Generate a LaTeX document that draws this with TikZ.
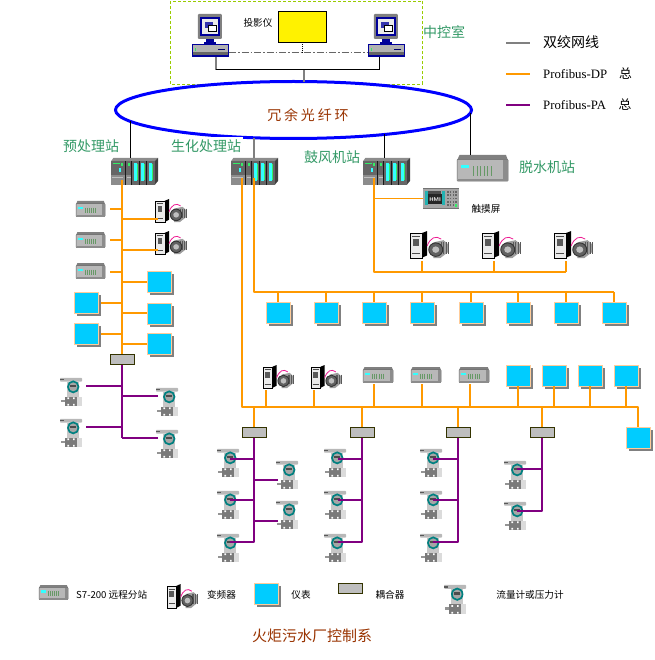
\documentclass[tikz,border=0pt]{standalone}
\usepackage{fontspec}
\setmainfont{Liberation Serif}
\newfontfamily\cjk{Noto Sans CJK SC}
\newfontfamily\cjkwide[LetterSpace=20]{Noto Sans CJK SC}
\usetikzlibrary{shapes.geometric}
\definecolor{dpor}{HTML}{FF9900}
\definecolor{papu}{HTML}{800080}
\definecolor{twis}{HTML}{808080}
\definecolor{ringb}{HTML}{0000FF}
\definecolor{grn}{HTML}{339966}
\definecolor{brn}{HTML}{993300}
\definecolor{cya}{HTML}{00CCFF}
\definecolor{peach}{HTML}{FFCC99}
\definecolor{olv}{HTML}{333300}
\definecolor{cpl}{HTML}{BEBEBE}
\definecolor{nav}{HTML}{000099}
\definecolor{tea}{HTML}{008080}
\definecolor{mint}{HTML}{33FFFF}
\definecolor{lime}{HTML}{33EE66}
\definecolor{tick}{HTML}{669966}
\definecolor{frame}{HTML}{99CC00}
\tikzset{
  dpbus/.style={draw=dpor,line width=1.7pt,line join=round},
  pabus/.style={draw=papu,line width=1.8pt,line join=round},
  tpline/.style={draw=twis,line width=1.5pt},
  blkline/.style={draw=black,line width=1pt},
  box/.style={inner sep=0pt,outer sep=0pt},
  greenlbl/.style={text=grn,font=\cjk\fontsize{14}{14}\selectfont,inner sep=0pt},
  smalllbl/.style={text=black,font=\cjk\fontsize{9.6}{10}\selectfont,inner sep=0pt},
  brownlbl/.style={text=brn,inner sep=0pt},
  leglbl/.style={text=black,inner sep=0pt,anchor=west},
}
% icons: name, left, top, width, height
\newcommand\remoteicon[5]{%
  \node[box,minimum width=#4pt,minimum height=#5pt] (#1) at ({#2+#4/2},{#3+#5/2}) {};
  \begin{scope}[shift={(#2,#3)},x=#4pt,y=-#5pt]
    \fill[black!50] (.05,0) -- (.96,0) -- (1,.2) -- (0,.2) -- cycle;
    \draw[black!60,fill=black!28,rounded corners=.8pt,line width=.5pt] (0,.16) rectangle (1,.97);
    \fill[black!45] (.91,.18) rectangle (1,.95);
    \fill[black!45] (.02,.88) rectangle (.98,.97);
    \fill[mint] (.08,.36) rectangle (.24,.5);
    \foreach \t in {.32,.39,.46,.53,.6,.67}
      \draw[tick,line width=.7pt] (\t,.42) -- (\t,.76);
  \end{scope}}
\newcommand\plcicon[5]{%
  \node[box,minimum width=#4pt,minimum height=#5pt] (#1) at ({#2+#4/2},{#3+#5/2}) {};
  \begin{scope}[shift={(#2,#3)},x=#4pt,y=-#5pt]
    \fill[black!45] (0,.12) -- (.05,0) -- (1,0) -- (.93,.12) -- cycle;
    \fill[black!75] (.93,.12) -- (1,0) -- (1,.85) -- (.93,1) -- cycle;
    \fill[black!60] (0,.12) rectangle (.93,1);
    \fill[black!45] (0,.62) rectangle (.3,1);
    \fill[black!45] (.3,.62) rectangle (.44,1);
    \fill[lime] (.04,.17) rectangle (.2,.24);
    \fill[lime] (.22,.2) rectangle (.26,.3);
    \fill[lime] (.36,.2) rectangle (.4,.3);
    \fill[mint] (.16,.38) rectangle (.22,.52);
    \draw[black!25,line width=.4pt] (.03,.72) -- (.25,.72) (.33,.72) -- (.42,.72);
    \foreach \m in {.3,.44,.6,.76} \draw[black!90,line width=.5pt] (\m,.12) -- (\m,1);
    \foreach \m in {.48,.64,.8}{
      \fill[mint] (\m,.2) rectangle (\m+.07,.84);
      \fill[lime] (\m+.07,.24) rectangle (\m+.09,.8);
    }
  \end{scope}}
\newcommand\pcicon[5]{%
  \node[box,minimum width=#4pt,minimum height=#5pt] (#1) at ({#2+#4/2},{#3+#5/2}) {};
  \begin{scope}[shift={(#2,#3)},x=#4pt,y=-#5pt]
    \fill[twis,rounded corners=1pt] (.16,0) rectangle (.81,.58);
    \fill[nav] (.22,.06) rectangle (.76,.52);
    \fill[black!8] (.28,.12) rectangle (.7,.46);
    \fill[nav!80] (.34,.18) rectangle (.58,.32);
    \draw[black,fill=white,line width=.5pt] (.44,.26) rectangle (.65,.41);
    \fill[nav] (.38,.58) rectangle (.6,.64);
    \fill[nav] (.32,.64) rectangle (.66,.69);
    \fill[nav] (0,.7) rectangle (1,1);
    \fill[black!30] (.03,.73) rectangle (.97,.95);
    \fill[black!60] (.03,.88) rectangle (.97,.95);
    \fill[nav!70!black] (.7,.81) rectangle (.88,.84);
    \fill[lime] (.08,.8) rectangle (.12,.85);
  \end{scope}}
\newcommand\vfdicon[5]{%
  \node[box,minimum width=#4pt,minimum height=#5pt] (#1) at ({#2+#4/2},{#3+#5/2}) {};
  \begin{scope}[shift={(#2,#3)},x=#4pt,y=-#5pt]
    \fill[black] (.3,.08) -- (.44,0) -- (.44,.9) -- (.3,1) -- cycle;
    \draw[black,fill=black!8,line width=.5pt] (0,.08) rectangle (.31,1);
    \fill[black!65] (.08,.3) rectangle (.23,.55);
    \draw[black!70,line width=.5pt] (.05,.2) -- (.26,.2) (.05,.82) -- (.26,.82);
    \fill[black!38] (.6,.42) -- (.86,.34) -- (1,.52) -- (.98,.78) -- (.78,1) -- (.6,1) -- cycle;
    \foreach \t in {.8,.86,.92,.97} \draw[black!65,line width=.4pt] (\t,.42) -- (\t,.84);
    \draw[black!80,fill=black!62,line width=.9pt] (.66,.69) circle [x radius=.18,y radius=.25];
    \fill[black!25] (.66,.69) circle [x radius=.09,y radius=.12];
    \draw[magenta!85!pink,line width=.8pt] (.44,.55) .. controls (.52,.25) and (.66,.15) .. (.8,.3);
  \end{scope}}
\newcommand\metericon[5]{%
  \node[box,minimum width=#4pt,minimum height=#5pt] (#1) at ({#2+#4/2},{#3+#5/2}) {};
  \begin{scope}[shift={(#2,#3)},x=#4pt,y=-#5pt]
    \fill[black!28,rounded corners=.8pt] (0,.03) rectangle (1,.16);
    \fill[black!65] (.02,.06) rectangle (.17,.12);
    \fill[black!22] (.3,.16) rectangle (.85,.7);
    \draw[tea,line width=1.7pt,fill=black!35] (.6,.34) circle [x radius=.24,y radius=.19];
    \fill[black!70] (.47,.28) rectangle (.72,.35);
    \fill[black!52] (.22,.68) rectangle (.78,1);
    \fill[black!14] (.78,.68) rectangle (1,1);
    \fill[black!42] (.04,.78) rectangle (.22,.86);
    \fill[white] (.34,.7) rectangle (.41,.76) (.6,.7) rectangle (.67,.76)
                 (.34,.93) rectangle (.41,.99) (.6,.93) rectangle (.67,.99);
  \end{scope}}
\newcommand\hmiicon[5]{%
  \node[box,minimum width=#4pt,minimum height=#5pt] (#1) at ({#2+#4/2},{#3+#5/2}) {};
  \begin{scope}[shift={(#2,#3)},x=#4pt,y=-#5pt]
    \fill[black!35] (0,0) rectangle (1,1);
    \fill[black!55] (0,0) rectangle (1,.06);
    \fill[black!55] (0,.94) rectangle (1,1);
    \fill[mint!70!black] (.05,.12) rectangle (.13,.8);
    \fill[mint!70!black] (.52,.12) rectangle (.6,.8);
    \fill[black!70] (.14,.12) rectangle (.5,.28);
    \fill[black!85] (.15,.3) rectangle (.52,.76);
    \node[box,text=white,font=\sffamily\bfseries\fontsize{5.5}{6}\selectfont] (#1txt) at (.335,.53) {HMI};
    \foreach \a in {.66,.74,.82,.9}
      \foreach \b in {.14,.3,.46,.62,.78}
        \fill[black!60] (\a,\b) rectangle (\a+.05,\b+.08);
    \fill[lime] (.88,.78) rectangle (.94,.92);
  \end{scope}}
\newcommand\insticon[4]{% name, left, top, height
  \fill[twis] ({#2+2.5},{#3+2.5}) rectangle ({#2+27},{#3+#4+2.5});
  \node[box,draw=peach,fill=cya,line width=.8pt,minimum width=24.5pt,minimum height=#4pt] (#1) at ({#2+12.25},{#3+#4/2}) {};}
\newcommand\cplicon[3]{% name, centre x, top
  \node[box,draw=olv,fill=cpl,line width=.8pt,minimum width=24pt,minimum height=10.5pt] (#1) at (#2,{#3+5.25}) {};}
% stubs: style, name of free end, x, y, node on the bus
\newcommand\hstub[5]{\coordinate (#2) at (#3,#4); \draw[#1] (#2) -- (#2 -| #5);}
\newcommand\vstub[5]{\coordinate (#2) at (#3,#4); \draw[#1] (#2) -- (#2 |- #5);}
\begin{document}
\begin{tikzpicture}[x=1pt,y=-1pt]
\useasboundingbox[fill=white] (0,0) rectangle (654,660);

% control room frame
\draw[draw=frame,line width=.8pt,dash pattern=on 3pt off 2pt] (170,1) rectangle (422.5,84);
\node[greenlbl] (lbzk) at (444,32) {中控室};
\node[box,draw=black,fill=yellow,line width=.8pt,minimum width=48pt,minimum height=31pt] (proj) at (302.5,27) {};
\node[smalllbl] (lbpr) at (258,23) {投影仪};
\pcicon{pcl}{192}{14}{37}{43}
\pcicon{pcr}{368}{14}{37}{43}

% ring
\node[ellipse,box,draw=ringb,fill=white,line width=3pt,minimum width=356pt,minimum height=57pt] (ring) at (293.5,110) {};
\node[brownlbl,font=\cjkwide\fontsize{14}{14}\selectfont] (lbring) at (308,115) {冗余光纤环};

% control room wiring
\coordinate (lanL) at (216,70);
\coordinate (lanR) at (379,70);
\coordinate (dashL) at (229,53);
\coordinate (dashR) at (368,53);
\draw[draw=twis!80!black,line width=1pt,dash pattern=on 7pt off 2pt on 1.5pt off 2pt] (dashL) -- (dashR);
\draw[black,line width=.8pt,densely dotted,shorten <=2pt] (proj.south) -- (proj.south |- dashL);
\draw[tpline] (pcl.south -| lanL) -- (lanL);
\draw[blkline] (pcr.south -| lanR) -- (lanR);
\draw[blkline] (lanL) -- (lanR);
\draw[tpline] (ring.70) -- (ring.70 |- lanL);

% stations
\plcicon{pre}{111}{158}{47}{27}
\plcicon{bio}{231}{158}{47}{27}
\plcicon{blo}{363}{158}{47}{27}
\remoteicon{dew}{457}{155}{51}{27}
\draw[blkline] (ring.184.6) -- (ring.184.6 |- pre.north);
\draw[tpline] (ring.215.6) -- (ring.215.6 |- bio.north);
\draw[blkline] (ring.345) -- (ring.345 |- blo.north);
\draw[blkline] (ring.-1.2) -- (ring.-1.2 |- dew.north);
\node[greenlbl] (lbpre) at (91,146) {预处理站};
\node[greenlbl,fill=white,inner xsep=1.5pt,inner ysep=3pt] (lbbio) at (206,146) {生化处理站};
\node[greenlbl] (lbblo) at (332,157) {鼓风机站};
\node[greenlbl] (lbdew) at (547,167) {脱水机站};

% pre-treatment branch
\remoteicon{ra}{76}{201}{29}{16}
\remoteicon{rb}{76}{232}{29}{16}
\remoteicon{rc}{76}{263}{29}{16}
\vfdicon{va}{155}{199}{32}{23}
\vfdicon{vb}{155}{231}{32}{23}
\insticon{ia}{147}{271}{21}
\insticon{ib}{147}{303}{21}
\insticon{ic}{147}{333}{21}
\insticon{id}{74}{292}{21}
\insticon{ie}{74}{323}{21}
\cplicon{ca}{122}{354}
\coordinate (aTop) at (122,180);
\coordinate (aEnd) at (122,438);
\draw[dpbus] (aTop) -- (ca.north);
\draw[pabus] (ca.south) -- (aEnd);
\hstub{dpbus}{s1}{110}{209}{ca}
\hstub{dpbus}{s2}{110}{240}{ca}
\hstub{dpbus}{s3}{110}{272}{ca}
\hstub{dpbus}{s4}{101}{303}{ca}
\hstub{dpbus}{s5}{101}{334}{ca}
\hstub{dpbus}{s6}{158}{219}{ca}
\hstub{dpbus}{s7}{158}{250}{ca}
\hstub{dpbus}{s8}{147}{282}{ca}
\hstub{dpbus}{s9}{147}{313}{ca}
\hstub{dpbus}{s10}{147}{344}{ca}
\metericon{ma}{60}{377}{22}{29}
\metericon{mb}{60}{418}{22}{29}
\metericon{mc}{156}{387}{22}{29}
\metericon{md}{156}{429}{22}{29}
\hstub{pabus}{t1}{86}{386}{ca}
\hstub{pabus}{t2}{86}{427}{ca}
\hstub{pabus}{t3}{158}{396}{ca}
\hstub{pabus}{t4}{158}{438}{ca}

% biochemical: upper instrument row
\coordinate (cTop) at (254,178);
\coordinate (cBus) at (254,292);
\coordinate (cEnd) at (614,292);
\draw[dpbus] (cTop) -- (cBus) -- (cEnd);
\foreach \n/\x in {ua/266,ub/314,uc/362,ud/410,ue/459,uf/506,ug/554,uh/602}{
  \insticon{\n}{\x}{302}{21}
  \draw[dpbus] (\n.north) -- (\n.north |- cBus);
}

% biochemical: lower bus
\vfdicon{vc}{263}{365}{31}{23}
\vfdicon{vd}{311}{365}{31}{23}
\remoteicon{rd}{363}{367}{30}{16}
\remoteicon{re}{411}{367}{30}{16}
\remoteicon{rf}{459}{367}{30}{16}
\insticon{ja}{506}{365}{21}
\insticon{jb}{542}{365}{21}
\insticon{jc}{578}{365}{21}
\insticon{jd}{614}{365}{21}
\insticon{je}{626}{427}{21}
\coordinate (bTop) at (242,178);
\coordinate (bBus) at (242,407);
\draw[dpbus] (bTop) -- (bBus) -| (je.north);
\vstub{dpbus}{v1}{266}{390}{bBus}
\vstub{dpbus}{v2}{314}{390}{bBus}
\vstub{dpbus}{v3}{374}{384}{bBus}
\vstub{dpbus}{v4}{422}{384}{bBus}
\vstub{dpbus}{v5}{470}{384}{bBus}
\foreach \n in {ja,jb,jc,jd} \draw[dpbus] (\n.south) -- (\n.south |- bBus);

% couplers and meters of the lower bus
\cplicon{cb}{254}{427}
\cplicon{cc}{362}{427}
\cplicon{cd}{458}{427}
\cplicon{ce}{542}{427}
\foreach \n in {cb,cc,cd,ce} \draw[dpbus] (\n.north) -- (\n.north |- bBus);
\metericon{me}{217}{448}{22}{29}
\metericon{mf}{217}{490}{22}{29}
\metericon{mg}{217}{533}{22}{29}
\metericon{mh}{276}{460}{22}{29}
\metericon{mi}{276}{500}{22}{29}
\metericon{mj}{324}{448}{22}{29}
\metericon{mk}{324}{490}{22}{29}
\metericon{ml}{324}{533}{22}{29}
\metericon{mm}{420}{448}{22}{29}
\metericon{mn}{420}{490}{22}{29}
\metericon{mo}{420}{533}{22}{29}
\metericon{mp}{504}{460}{22}{29}
\metericon{mq}{504}{501}{22}{29}
\coordinate (w3) at (230,542);
\coordinate (w8) at (338,542);
\coordinate (w11) at (433,542);
\coordinate (w13) at (517,511);
\draw[pabus] (cb.south) |- (w3);
\draw[pabus] (cc.south) |- (w8);
\draw[pabus] (cd.south) |- (w11);
\draw[pabus] (ce.south) |- (w13);
\hstub{pabus}{w1}{230}{459}{cb}
\hstub{pabus}{w2}{230}{500}{cb}
\hstub{pabus}{w4}{278}{480}{cb}
\hstub{pabus}{w5}{278}{521}{cb}
\hstub{pabus}{w6}{338}{459}{cc}
\hstub{pabus}{w7}{338}{500}{cc}
\hstub{pabus}{w9}{433}{459}{cd}
\hstub{pabus}{w10}{433}{500}{cd}
\hstub{pabus}{w12}{517}{469}{ce}

% blower branch
\hmiicon{hmi}{423}{188}{36}{21}
\node[smalllbl] (lbhmi) at (486,209) {触摸屏};
\vfdicon{vf}{410}{231}{39}{27}
\vfdicon{vg}{482}{231}{39}{27}
\vfdicon{vh}{554}{231}{39}{27}
\coordinate (dTop) at (374,178);
\coordinate (dBus) at (374,272);
\coordinate (dEnd) at (566,272);
\draw[dpbus] (dTop) -- (dBus) -- (dEnd);
\draw[dpbus] (hmi.west) -- (hmi.west -| dBus);
\vstub{dpbus}{x1}{422}{261}{dBus}
\vstub{dpbus}{x2}{494}{261}{dBus}
\vstub{dpbus}{x3}{566}{261}{dBus}

% line legend
\coordinate (la1) at (506,43); \coordinate (la2) at (530,43);
\coordinate (lb1) at (506,74); \coordinate (lb2) at (530,74);
\coordinate (lc1) at (506,105); \coordinate (lc2) at (530,105);
\draw[tpline] (la1) -- (la2);
\draw[dpbus] (lb1) -- (lb2);
\draw[pabus] (lc1) -- (lc2);
\node[leglbl,font=\cjk\fontsize{14}{14}\selectfont] (lla) at (543,42) {双绞网线};
\node[leglbl,font=\fontsize{12.8}{14}\selectfont] (llb) at (543,74) {Profibus-DP\hspace{12pt}{\cjk 总}};
\node[leglbl,font=\fontsize{12.8}{14}\selectfont] (llc) at (543,105) {Profibus-PA\hspace{12.5pt}{\cjk 总}};

% icon legend
\remoteicon{kr}{39}{585}{29}{15}
\node[smalllbl,anchor=west] (kt1) at (76,595) {S7-200 远程分站};
\vfdicon{kv}{167}{584}{31}{24}
\node[smalllbl] (kt2) at (221.5,595) {变频器};
\insticon{ki}{254}{583}{21}
\node[smalllbl] (kt3) at (301,595) {仪表};
\cplicon{kc}{350.5}{583}
\node[smalllbl] (kt4) at (390,595) {耦合器};
\metericon{km}{444}{584}{22}{30}
\node[smalllbl] (kt5) at (530,595) {流量计或压力计};
\node[brownlbl,font=\cjk\fontsize{15}{15}\selectfont] (title) at (312,636) {火炬污水厂控制系};
\end{tikzpicture}
\end{document}
